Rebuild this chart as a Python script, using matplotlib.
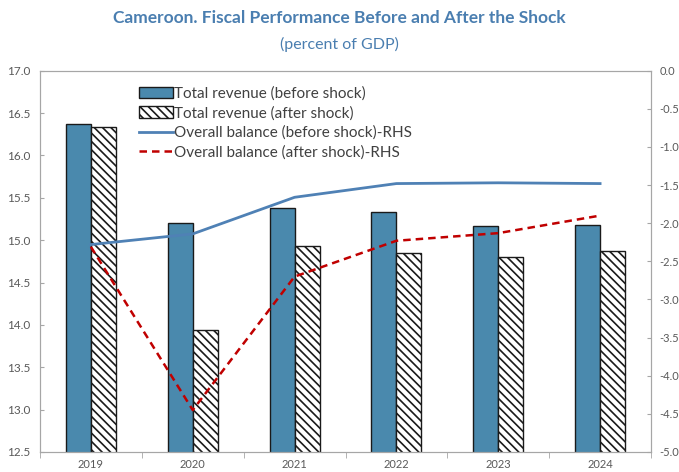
import numpy as np
import matplotlib.pyplot as plt
from matplotlib.ticker import FixedLocator

years = ['2019', '2020', '2021', '2022', '2023', '2024']
rev_before = [16.37, 15.20, 15.38, 15.33, 15.17, 15.18]
rev_after = [16.33, 13.94, 14.93, 14.85, 14.80, 14.87]
bal_before = [-2.28, -2.14, -1.66, -1.48, -1.47, -1.48]
bal_after = [-2.31, -4.45, -2.70, -2.23, -2.13, -1.90]

grey = '#595959'
spine_col = '#a6a6a6'
title_col = '#4a7eb0'
plt.rcParams['hatch.linewidth'] = 1.2
plt.rcParams['font.family'] = ['Lato', 'DejaVu Sans']

fig = plt.figure(figsize=(6.79, 4.72), dpi=100)
ax = fig.add_axes([40 / 679, 20 / 472, 611 / 679, 381.3 / 472])
ax2 = ax.twinx()

x = np.arange(len(years))
w = 0.245
ax.bar(x - w / 2, rev_before, w, color='#4a89ad', edgecolor='#1a1a1a',
       linewidth=1, label='Total revenue (before shock)', zorder=2)
ax.bar(x + w / 2, rev_after, w, color='white', edgecolor='#1a1a1a', hatch='\\\\\\\\',
       linewidth=1, label='Total revenue (after shock)', zorder=2)
ax2.plot(x, bal_before, color='#4f81b5', lw=2, label='Overall balance (before shock)-RHS')
ax2.plot(x, bal_after, color='#c00000', lw=1.8, ls=(0, (3, 2)),
         label='Overall balance (after shock)-RHS')

ax.set_xlim(-0.5, len(years) - 0.5)
ax.set_ylim(12.5, 17.0)
ax.set_yticks(np.arange(12.5, 17.01, 0.5))
ax.set_yticklabels([f'{v:.1f}' for v in np.arange(12.5, 17.01, 0.5)])
ax2.set_ylim(-5.0, 0.0)
ax2.set_yticks(np.arange(-5.0, 0.01, 0.5))
ax2.set_yticklabels([f'{v:.1f}' for v in np.arange(-5.0, 0.01, 0.5)])

ax.set_xticks(x)
ax.set_xticklabels(years)
ax.xaxis.set_minor_locator(FixedLocator(np.arange(-0.5, len(years), 1.0)))
ax.tick_params(axis='x', which='major', length=0, pad=5, labelsize=8, labelcolor=grey)
ax.tick_params(axis='x', which='minor', length=4, direction='out', color=spine_col)
ax.tick_params(axis='y', direction='in', length=3, color=spine_col, labelsize=8.5,
               labelcolor=grey, pad=7)
ax2.tick_params(axis='y', direction='in', length=3, color=spine_col, labelsize=8,
                labelcolor=grey, pad=6)
for a in (ax, ax2):
    for s in a.spines.values():
        s.set_color(spine_col)

h1, l1 = ax.get_legend_handles_labels()
h2, l2 = ax2.get_legend_handles_labels()
ax2.legend(h1 + h2, l1 + l2, loc='upper left', bbox_to_anchor=(0.14, 0.995), frameon=False,
           fontsize=11, handlelength=2.2, handleheight=0.8, handletextpad=0.1,
           labelspacing=0.35, labelcolor='#404040')

fig.text(0.5, 0.962, 'Cameroon. Fiscal Performance Before and After the Shock',
         ha='center', va='center', fontsize=12.5, fontweight='bold', color=title_col)
fig.text(0.5, 0.905, '(percent of GDP)', ha='center', va='center', fontsize=11.5,
         color=title_col)

fig.savefig('out.png', dpi=100)
